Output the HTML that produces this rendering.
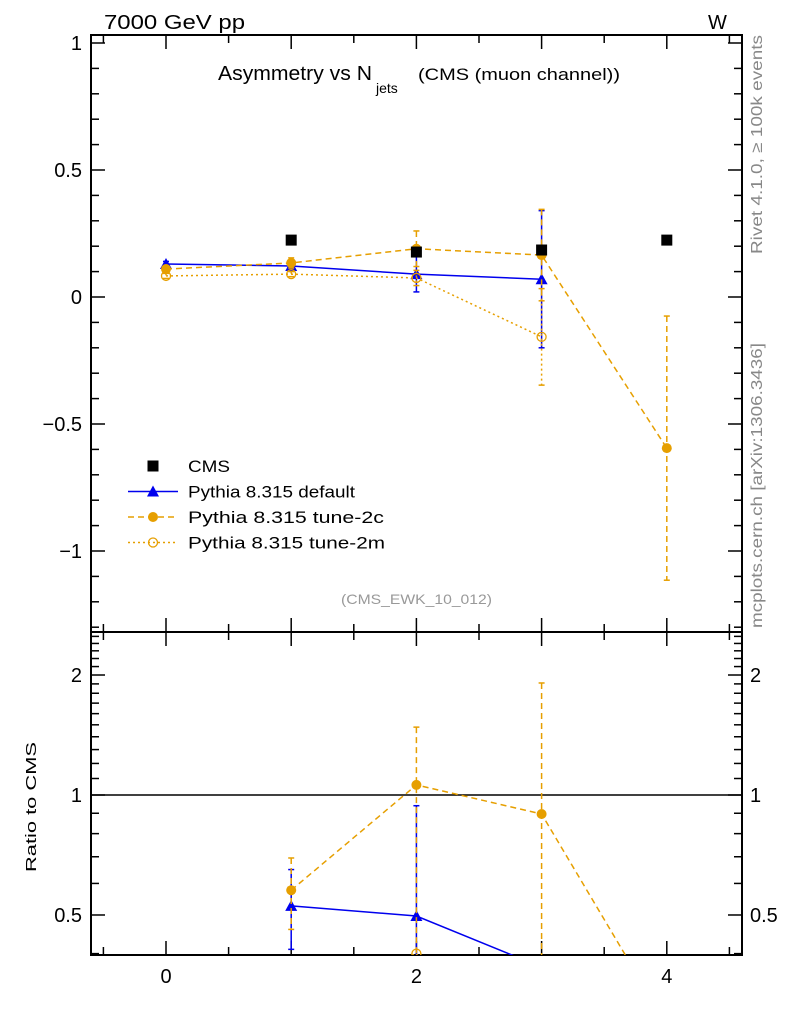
<!DOCTYPE html>
<html><head><meta charset="utf-8"><style>
html,body{margin:0;padding:0;background:#fff;overflow:hidden;width:786px;height:1024px;}
svg{font-family:"Liberation Sans",sans-serif;display:block;}
</style></head><body>
<svg id="c" width="786" height="1024" xmlns="http://www.w3.org/2000/svg">
<defs>
<clipPath id="cm"><rect x="91" y="35" width="651" height="597"/></clipPath>
<clipPath id="cr"><rect x="91" y="632" width="651" height="323"/></clipPath>
</defs>
<text x="104" y="29" font-size="20" textLength="141" lengthAdjust="spacingAndGlyphs">7000 GeV pp</text>
<text x="708" y="29" font-size="20">W</text>
<text x="218" y="80" font-size="20" textLength="154" lengthAdjust="spacingAndGlyphs">Asymmetry vs N</text>
<text x="376" y="93" font-size="14">jets</text>
<text x="418" y="80" font-size="17" textLength="202" lengthAdjust="spacingAndGlyphs">(CMS (muon channel))</text>
<text x="341" y="604" font-size="14" fill="#999" textLength="151" lengthAdjust="spacingAndGlyphs">(CMS_EWK_10_012)</text>
<text transform="translate(762,254) rotate(-90)" font-size="16" fill="#888" textLength="219" lengthAdjust="spacingAndGlyphs">Rivet 4.1.0, ≥ 100k events</text>
<text transform="translate(762,628) rotate(-90)" font-size="16" fill="#888" textLength="285" lengthAdjust="spacingAndGlyphs">mcplots.cern.ch [arXiv:1306.3436]</text>
<text transform="translate(36,872) rotate(-90)" font-size="15" textLength="130" lengthAdjust="spacingAndGlyphs">Ratio to CMS</text>
<g id="axes"></g>
<g id="main" clip-path="url(#cm)"></g>
<g id="ratio" clip-path="url(#cr)"></g>
<g id="legend"></g>
</svg>
<script>
const xs=[0,1,2,3,4];
const cmsX=[1,2,3,4];
const cmsY=[0.224,0.177,0.185,0.224];
const defY=[0.13,0.122,0.09,0.07];
const defE=[0.01,0.02,0.07,0.27];
const c2cY=[0.11,0.134,0.19,0.165,-0.595];
const c2cE=[0.01,0.02,0.07,0.18,0.52];
const c2mY=[0.083,0.09,0.075,-0.157];
const c2mE=[0.01,0.01,0.03,0.19];
const rDefX=[1,2,3];
const rDefY=[0.527,0.497,0.37];
const rDefLo=[0.41,0.2,0.1];
const rDefHi=[0.65,0.94,0.38];
const r2cX=[1,2,3,4];
const r2cY=[0.577,1.06,0.896,0.265];
const r2cLo=[0.46,0.3,0.1,0.1];
const r2cHi=[0.695,1.48,1.91,0.27];
const r2mX=[1,2,3];
const r2mY=[0.3,0.40,0.1];
const xTicks=[0,2,4];
const yTicks=[1,0.5,0,-0.5,-1];
const yTickLabels=["1","0.5","0","\u22120.5","\u22121"];
const rTicks=[2,1,0.5];
const rTickLabels=["2","1","0.5"];

const NS="http://www.w3.org/2000/svg";
const X=v=>166+(v)*125.2;
const Y=v=>297-v*254;
const R=v=>795-Math.log10(v)*398.6;
function el(p,t,a){const e=document.createElementNS(NS,t);for(const k in a)e.setAttribute(k,a[k]);p.appendChild(e);return e;}
const ax=document.getElementById('axes'),gm=document.getElementById('main'),gr=document.getElementById('ratio'),lg=document.getElementById('legend');
let f1=el(ax,'rect',{x:91,y:35,width:651,height:597,fill:'none',stroke:'#000','stroke-width':2});

let f2=el(ax,'rect',{x:91,y:632,width:651,height:323,fill:'none',stroke:'#000','stroke-width':2});

for(let v=-0.5;v<=4.5;v+=0.5){const maj=Number.isInteger(v);const L=maj?14:8;const x=X(v);
 for(const [yb,yt] of [[632,35],[955,632]]){el(ax,'line',{x1:x,x2:x,y1:yb,y2:yb-L,stroke:'#000','stroke-width':1.5});el(ax,'line',{x1:x,x2:x,y1:yt,y2:yt+L,stroke:'#000','stroke-width':1.5});}}
xTicks.forEach(v=>{const t=el(ax,'text',{x:X(v),y:983,'font-size':20,'text-anchor':'middle'});t.textContent=v;
});
for(let i=-13;i<=10;i++){const v=i/10;const y=Y(v);const maj=i%5===0;const L=maj?14:8;
 el(ax,'line',{x1:91,x2:91+L,y1:y,y2:y,stroke:'#000','stroke-width':1.5});el(ax,'line',{x1:742,x2:742-L,y1:y,y2:y,stroke:'#000','stroke-width':1.5});}
yTicks.forEach((v,i)=>{const t=el(ax,'text',{x:82,y:Y(v)+7,'font-size':20,'text-anchor':'end'});t.textContent=yTickLabels[i];
});
for(let i=4;i<=25;i++){const v=i/10;const y=R(v);if(y<632||y>955)continue;const maj=(i===5||i===10||i===20);const L=maj?14:8;
 el(ax,'line',{x1:91,x2:91+L,y1:y,y2:y,stroke:'#000','stroke-width':1.5});el(ax,'line',{x1:742,x2:742-L,y1:y,y2:y,stroke:'#000','stroke-width':1.5});}
rTicks.forEach((v,i)=>{for(const [x,a] of [[82,'end'],[750,'start']]){const t=el(ax,'text',{x:x,y:R(v)+7,'font-size':20,'text-anchor':a});t.textContent=rTickLabels[i];
}});
el(gr,'line',{x1:91,x2:742,y1:R(1),y2:R(1),stroke:'#000','stroke-width':1.5});

const BLUE='#0000ee',OR='#e69f00';
function series(g,xv,yv,lo,hi,col,dash,mk,name,fy){
 const pts=xv.map((x,i)=>X(x)+','+fy(yv[i])).join(' ');
 const pl=el(g,'polyline',{points:pts,fill:'none',stroke:col,'stroke-width':1.5,'stroke-dasharray':dash});
 
 xv.forEach((x,i)=>{const px=X(x),py=fy(yv[i]);
  if(lo){const a=fy(hi[i]),b=fy(lo[i]);
   el(g,'line',{x1:px,x2:px,y1:a,y2:b,stroke:col,'stroke-width':1.5,'stroke-dasharray':dash});
   el(g,'line',{x1:px-3,x2:px+3,y1:a,y2:a,stroke:col,'stroke-width':1.5});el(g,'line',{x1:px-3,x2:px+3,y1:b,y2:b,stroke:col,'stroke-width':1.5});}
  let m;
  if(mk==='tri')m=el(g,'polygon',{points:`${px},${py-6} ${px-6},${py+5} ${px+6},${py+5}`,fill:col});
  else if(mk==='dot')m=el(g,'circle',{cx:px,cy:py,r:5,fill:col});
  else if(mk==='ring')m=el(g,'circle',{cx:px,cy:py,r:4.5,fill:'none',stroke:col,'stroke-width':1.3});
  else m=el(g,'rect',{x:px-5.5,y:py-5.5,width:11,height:11,fill:'#000'});
  
 });
}
series(gm,xs.slice(0,4),defY,defY.map((v,i)=>v-defE[i]),defY.map((v,i)=>v+defE[i]),BLUE,'none','tri','pythia-default',Y);
series(gm,xs,c2cY,c2cY.map((v,i)=>v-c2cE[i]),c2cY.map((v,i)=>v+c2cE[i]),OR,'6,4','dot','pythia-tune-2c',Y);
series(gm,xs.slice(0,4),c2mY,c2mY.map((v,i)=>v-c2mE[i]),c2mY.map((v,i)=>v+c2mE[i]),OR,'2,3','ring','pythia-tune-2m',Y);
cmsX.forEach((x,i)=>{const m=el(gm,'rect',{x:X(x)-5.5,y:Y(cmsY[i])-5.5,width:11,height:11,fill:'#000'});
});
const SR=v=>v>0?R(v):1200;
series(gr,rDefX,rDefY,rDefLo,rDefHi,BLUE,'none','tri','ratio-default',SR);
series(gr,r2cX,r2cY,r2cLo,r2cHi,OR,'6,4','dot','ratio-tune-2c',SR);
series(gr,r2mX,r2mY,null,null,OR,'2,3','ring','ratio-tune-2m',SR);
const items=[['CMS','#000','none','sq',42],['Pythia 8.315 default',BLUE,'none','tri',167],['Pythia 8.315 tune-2c',OR,'6,4','dot',196],['Pythia 8.315 tune-2m',OR,'2,3','ring',197]];
items.forEach((it,i)=>{const y=466+i*25.5;const g=el(lg,'g',{});
 
 if(it[3]!=='sq')el(g,'line',{x1:128,x2:178,y1:y,y2:y,stroke:it[1],'stroke-width':1.5,'stroke-dasharray':it[2]});
 const px=153,py=y;
 if(it[3]==='sq')el(g,'rect',{x:px-5.5,y:py-5.5,width:11,height:11,fill:'#000'});
 else if(it[3]==='tri')el(g,'polygon',{points:`${px},${py-6} ${px-6},${py+5} ${px+6},${py+5}`,fill:it[1]});
 else if(it[3]==='dot')el(g,'circle',{cx:px,cy:py,r:5,fill:it[1]});
 else el(g,'circle',{cx:px,cy:py,r:4.5,fill:'none',stroke:it[1],'stroke-width':1.3});
 const t=el(g,'text',{x:188,y:y+6,'font-size':17,textLength:it[4],lengthAdjust:'spacingAndGlyphs'});t.textContent=it[0];});
</script>
</body></html>
